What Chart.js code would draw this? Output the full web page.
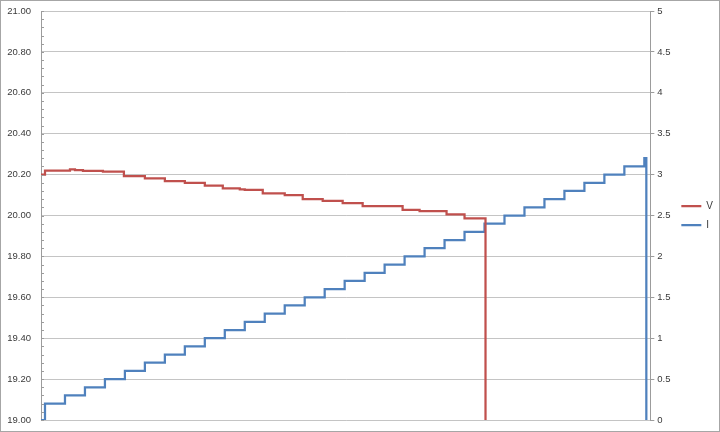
<!DOCTYPE html>
<html>
<head>
<meta charset="utf-8">
<script src="https://cdn.jsdelivr.net/npm/chart.js@4.4.1/dist/chart.umd.min.js"></script>
<style>
  html, body { margin: 0; padding: 0; background: #fff; }
  #wrap { width: 720px; height: 432px; }
  canvas { display: block; outline: 1px solid #a6a6a6; outline-offset: -1px; }
</style>
</head>
<body>
<div id="wrap"><canvas id="grafico" width="720" height="432"></canvas></div>
<script>
// tensão (V): instante em que cada patamar começa e o valor do patamar
const vTime = [0, 2, 14.5, 17, 21, 31, 41.5, 52, 62, 72, 82, 91, 99.5, 102, 111, 122, 131, 141, 151, 161, 181, 189.5, 203, 212, 222.5];
const vVolts = [20.20, 20.22, 20.225, 20.222, 20.218, 20.215, 20.193, 20.182, 20.168, 20.160, 20.146, 20.133, 20.128, 20.125, 20.108, 20.100, 20.080, 20.072, 20.060, 20.046, 20.027, 20.022, 20.006, 19.986, 0];

// corrente (I)
const iTime = [0, 2, 12, 22, 32, 42, 52, 62, 72, 82, 92, 102, 112, 122, 132, 142, 152, 162, 172, 182, 192, 202, 212, 222, 232, 242, 252, 262, 272, 282, 292, 302, 303];
const iAmps = [0, 0.2, 0.3, 0.4, 0.5, 0.6, 0.7, 0.8, 0.9, 1.0, 1.1, 1.2, 1.3, 1.4, 1.5, 1.6, 1.7, 1.8, 1.9, 2.0, 2.1, 2.2, 2.3, 2.4, 2.5, 2.6, 2.7, 2.8, 2.9, 3.0, 3.1, 3.2, 0];

const FONTE = "'Liberation Sans', Arial, sans-serif";
const COR_TEXTO = "#3a3a3a";
const COR_GRADE = "#c4c4c4";
const COR_EIXO = "#9c9c9c";

// pequenos traços secundários no eixo da esquerda
const tracosMenores = {
  id: "tracosMenores",
  afterDatasetsDraw(chart) {
    const y = chart.scales.y;
    const ctx = chart.ctx;
    ctx.save();
    ctx.strokeStyle = COR_EIXO;
    ctx.lineWidth = 1;
    for (let v = 19; v <= 21.0001; v += 0.04) {
      const py = Math.round(y.getPixelForValue(v)) + 0.5;
      ctx.beginPath();
      ctx.moveTo(chart.chartArea.left, py);
      ctx.lineTo(chart.chartArea.left + 3, py);
      ctx.stroke();
    }
    ctx.restore();
  },
};

new Chart(document.getElementById("grafico"), {
  type: "line",
  data: {
    datasets: [
      {
        label: "V",
        data: vTime.map((t, i) => ({ x: t, y: vVolts[i] })),
        yAxisID: "y",
        borderColor: "#c0504d",
        backgroundColor: "#c0504d",
        borderWidth: 2.25,
        pointRadius: 0,
        stepped: true,
      },
      {
        label: "I",
        data: iTime.map((t, i) => ({ x: t, y: iAmps[i] })),
        yAxisID: "y1",
        borderColor: "#4f81bd",
        backgroundColor: "#4f81bd",
        borderWidth: 2.25,
        pointRadius: 0,
        stepped: true,
      },
    ],
  },
  options: {
    responsive: false,
    animation: false,
    devicePixelRatio: 1,
    layout: { padding: { top: 11, bottom: 12, left: 0, right: -3 } },
    plugins: {
      tooltip: { enabled: false },
      legend: {
        position: "right",
        labels: {
          usePointStyle: true,
          pointStyle: "line",
          pointStyleWidth: 20,
          color: COR_TEXTO,
          font: { family: FONTE, size: 10 },
          padding: 9,
        },
      },
    },
    scales: {
      x: { type: "linear", min: 0, max: 305, display: false },
      y: {
        position: "left",
        min: 19,
        max: 21,
        afterFit: (s) => {
          s.width = 41;
          s.paddingTop = 0;
          s.paddingBottom = 0;
        },
        ticks: {
          stepSize: 0.2,
          padding: 10,
          color: COR_TEXTO,
          font: { family: FONTE, size: 9.5 },
          callback: (v) => v.toFixed(2),
        },
        grid: { color: COR_GRADE, drawTicks: false },
        border: { color: COR_EIXO },
      },
      y1: {
        position: "right",
        min: 0,
        max: 5,
        afterFit: (s) => {
          s.width = 22;
          s.paddingTop = 0;
          s.paddingBottom = 0;
        },
        ticks: {
          stepSize: 0.5,
          padding: 3,
          color: COR_TEXTO,
          font: { family: FONTE, size: 9.5 },
          callback: (v) => String(v),
        },
        grid: { drawOnChartArea: false, tickLength: 4, tickColor: COR_EIXO },
        border: { color: COR_EIXO },
      },
    },
  },
  plugins: [tracosMenores],
});
</script>
</body>
</html>
